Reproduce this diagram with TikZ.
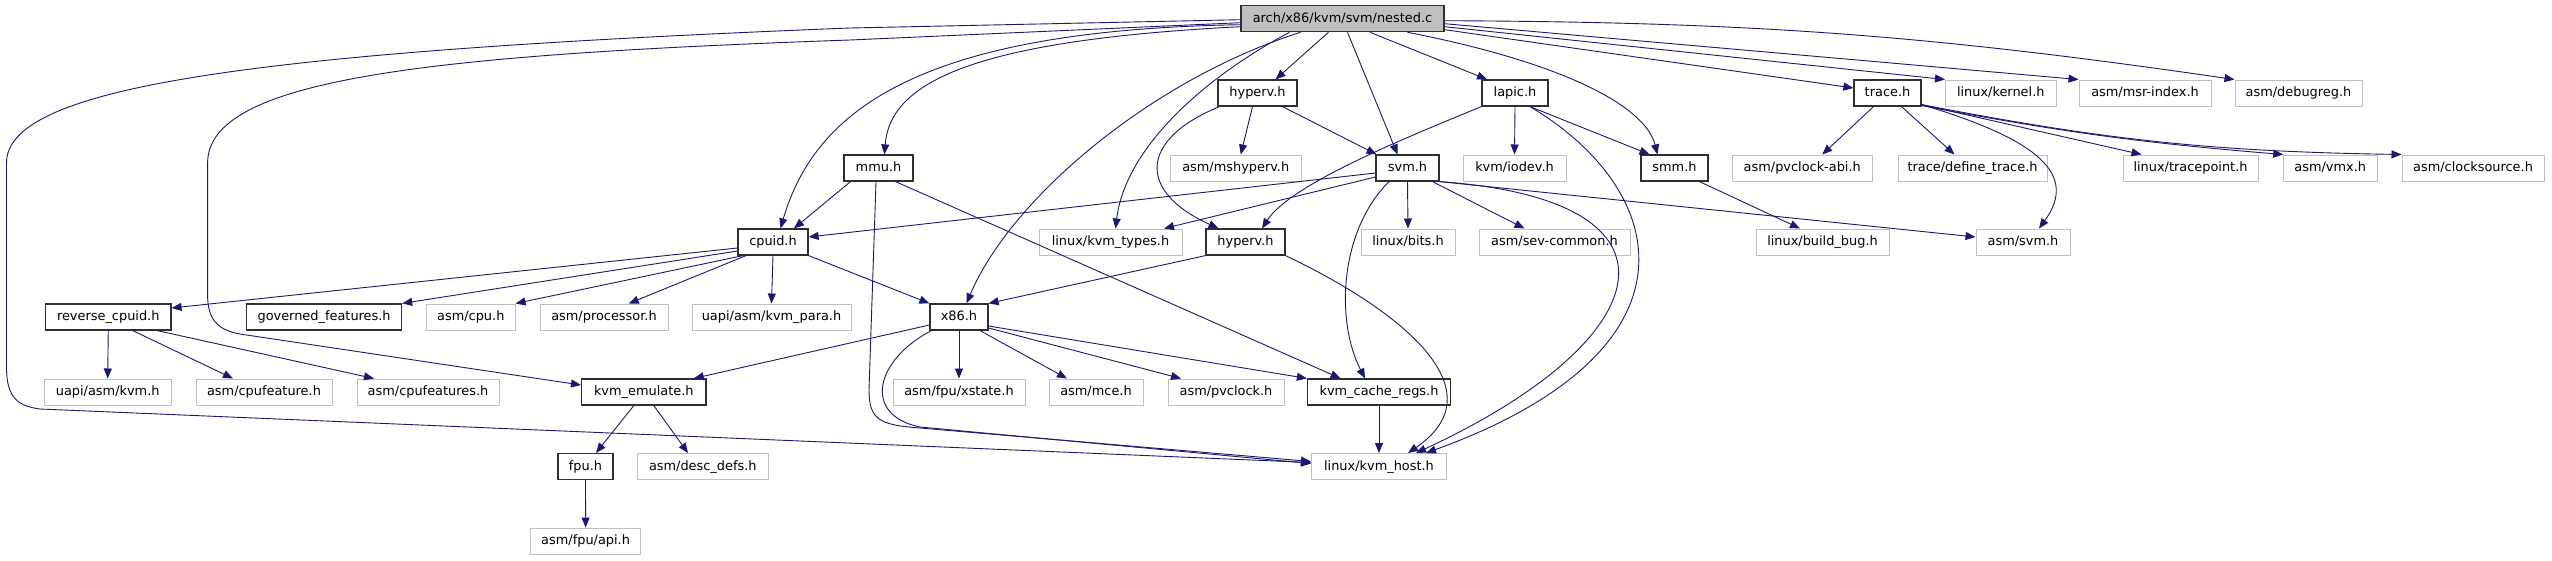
\documentclass[tikz,border=0pt]{standalone}
\usepackage{fontspec}
\setmainfont{DejaVu Sans}
\usetikzlibrary{arrows.meta}
\definecolor{ecol}{HTML}{191970}
\definecolor{docborder}{HTML}{303030}
\definecolor{extborder}{HTML}{BFBFBF}
\definecolor{rootfill}{HTML}{BFBFBF}
\tikzset{
  base/.style={rectangle, inner sep=0pt, minimum height=26pt, text height=9.6pt, text depth=2.6pt, font=\fontsize{12.9}{15}\selectfont, text=black},
  doc/.style={base, draw=docborder, line width=1.2pt, fill=white},
  ext/.style={base, draw=extborder, line width=1pt, fill=white},
  root/.style={base, draw=docborder, fill=rootfill, line width=1.2pt},
  edge/.style={draw=ecol, line width=0.9pt, -{Triangle[length=10pt,width=8pt]}, fill=none},
}
\begin{document}
\begin{tikzpicture}[x=1pt,y=1pt]
\useasboundingbox[fill=white] (0,0) rectangle (2552,-560);
% row 1
\node[root, minimum width=203pt] (nested) at (1342.5,-18.7) {arch/x86/kvm/svm/nested.c};
% row 2
\node[doc, minimum width=79pt] (hyperv2) at (1257.5,-93) {hyperv.h};
\node[doc, minimum width=66pt] (lapic) at (1515,-93) {lapic.h};
\node[doc, minimum width=67pt] (trace) at (1887.5,-93) {trace.h};
\node[ext, minimum width=110.5pt] (kernel) at (2000.75,-93) {linux/kernel.h};
\node[ext, minimum width=132pt] (msr) at (2145,-93) {asm/msr-index.h};
\node[ext, minimum width=127pt] (debugreg) at (2298.5,-93) {asm/debugreg.h};
% row 3
\node[doc, minimum width=69pt] (mmu) at (878.5,-168) {mmu.h};
\node[ext, minimum width=131.5pt] (mshyperv) at (1235.75,-168) {asm/mshyperv.h};
\node[doc, minimum width=63pt] (svm) at (1407.5,-168) {svm.h};
\node[ext, minimum width=103pt] (iodev) at (1514.5,-168) {kvm/iodev.h};
\node[doc, minimum width=67pt] (smm) at (1674.5,-168) {smm.h};
\node[ext, minimum width=139.5pt] (pvclockabi) at (1802.25,-168) {asm/pvclock-abi.h};
\node[ext, minimum width=149pt] (definetrace) at (1972.5,-168) {trace/define\_trace.h};
\node[ext, minimum width=135pt] (tracepoint) at (2190.5,-168) {linux/tracepoint.h};
\node[ext, minimum width=94.5pt] (vmx) at (2330.25,-168) {asm/vmx.h};
\node[ext, minimum width=142pt] (clocksource) at (2473,-168) {asm/clocksource.h};
% row 4
\node[doc, minimum width=70pt] (cpuid) at (773,-242) {cpuid.h};
\node[ext, minimum width=143pt] (kvmtypes) at (1110.5,-242) {linux/kvm\_types.h};
\node[doc, minimum width=79pt] (hyperv4) at (1245.5,-242) {hyperv.h};
\node[ext, minimum width=94pt] (bits) at (1408,-242) {linux/bits.h};
\node[ext, minimum width=151pt] (sev) at (1554.5,-242) {asm/sev-common.h};
\node[ext, minimum width=133pt] (buildbug) at (1822.5,-242) {linux/build\_bug.h};
\node[ext, minimum width=94pt] (asmsvm) at (2023,-242) {asm/svm.h};
% row 5
\node[doc, minimum width=125.5pt] (revcpuid) at (108.25,-317) {reverse\_cpuid.h};
\node[doc, minimum width=155pt] (governed) at (324.1,-317) {governed\_features.h};
\node[ext, minimum width=88.4pt] (asmcpu) at (470.8,-317) {asm/cpu.h};
\node[ext, minimum width=128pt] (processor) at (604,-317) {asm/processor.h};
\node[ext, minimum width=159pt] (kvmpara) at (771.5,-317) {uapi/asm/kvm\_para.h};
\node[doc, minimum width=58pt] (x86) at (959,-317) {x86.h};
% row 6
\node[ext, minimum width=126.6pt] (uapikvm) at (107.7,-392) {uapi/asm/kvm.h};
\node[ext, minimum width=136pt] (cpufeature) at (264,-392) {asm/cpufeature.h};
\node[ext, minimum width=142pt] (cpufeatures) at (428,-392) {asm/cpufeatures.h};
\node[doc, minimum width=124.4pt] (kvmemulate) at (643.8,-392) {kvm\_emulate.h};
\node[ext, minimum width=132pt] (xstate) at (959,-392) {asm/fpu/xstate.h};
\node[ext, minimum width=94pt] (mce) at (1096,-392) {asm/mce.h};
\node[ext, minimum width=116pt] (pvclock) at (1226,-392) {asm/pvclock.h};
\node[doc, minimum width=143pt] (cacheregs) at (1379,-392) {kvm\_cache\_regs.h};
% row 7
\node[doc, minimum width=55pt] (fpu) at (585.5,-466.5) {fpu.h};
\node[ext, minimum width=131.6pt] (descdefs) at (702.8,-466.5) {asm/desc\_defs.h};
\node[ext, minimum width=135pt] (kvmhost) at (1379,-466.5) {linux/kvm\_host.h};
% row 8
\node[ext, minimum width=110pt] (fpuapi) at (585.6,-541) {asm/fpu/api.h};

% edges from nested.c
\draw[edge] ([xshift=-14pt]nested.south) -- ([xshift=18pt]hyperv2.north);
\draw[edge] ([xshift=5pt]nested.south) -- ([xshift=-10pt]svm.north);
\draw[edge] ([xshift=27.5pt]nested.south) -- ([xshift=-28pt]lapic.north);
\draw[edge] ([xshift=65pt]nested.south) .. controls (1560,-62) and (1645,-105) .. ([xshift=-17pt]smm.north);
\draw[edge] ([yshift=-11pt]nested.east) -- ([yshift=5pt]trace.west);
\draw[edge] ([yshift=-8pt]nested.east) -- (kernel.north west);
\draw[edge] ([yshift=-5pt]nested.east) -- (msr.north west);
\draw[edge] ([yshift=-2pt]nested.east) to[bend left=4] (debugreg.north west);
\draw[edge] ([yshift=-1pt]nested.west) -- (850,-28) .. controls (240,-52) and (6.5,-88) .. (6.5,-163) -- (6.5,-367) .. controls (6.5,-398) and (18,-406) .. (40,-409) -- ([yshift=4pt]kvmhost.west);
\draw[edge] ([yshift=-4pt]nested.west) -- (850,-40) .. controls (420,-55) and (207.6,-80) .. (207.6,-163) -- (207.6,-295) .. controls (207.6,-320) and (218,-330) .. (240,-334) -- ([yshift=7pt]kvmemulate.west);
\draw[edge] ([yshift=-6pt]nested.west) .. controls (920,-30) and (815,-110) .. ([xshift=7.5pt]cpuid.north);
\draw[edge] ([yshift=-8pt]nested.west) .. controls (980,-40) and (890,-80) .. ([xshift=6pt]mmu.north);
\draw[edge] ([xshift=-42pt]nested.south) .. controls (1150,-80) and (1010,-200) .. ([xshift=7.5pt]x86.north);
\draw[edge] ([xshift=-53pt]nested.south) .. controls (1200,-80) and (1125,-150) .. ([xshift=5pt]kvmtypes.north);
% hyperv.h (upper)
\draw[edge] ([xshift=-5pt]hyperv2.south) -- ([xshift=5pt]mshyperv.north);
\draw[edge] ([xshift=25pt]hyperv2.south) -- ([xshift=-31pt]svm.north);
\draw[edge] ([xshift=-38pt]hyperv2.south) .. controls (1138,-140) and (1138,-192) .. ([xshift=-27pt]hyperv4.north);
% lapic.h
\draw[edge] (lapic.south west) .. controls (1400,-140) and (1290,-185) .. ([xshift=16.5pt]hyperv4.north);
\draw[edge] (lapic.south) -- (iodev.north);
\draw[edge] ([xshift=15pt]lapic.south) -- ([xshift=-25pt]smm.north);
\draw[edge] ([xshift=15pt]lapic.south) .. controls (1670,-190) and (1710,-350) .. ([xshift=47pt]kvmhost.north);
% svm.h
\draw[edge] ([yshift=-5pt]svm.west) -- ([yshift=5pt]cpuid.east);
\draw[edge] ([yshift=-9pt]svm.west) -- ([xshift=53.5pt]kvmtypes.north);
\draw[edge] (svm.south) -- (bits.north);
\draw[edge] ([xshift=25pt]svm.south) -- ([xshift=-30pt]sev.north);
\draw[edge] ([xshift=-18.5pt]svm.south) .. controls (1340,-230) and (1335,-320) .. ([xshift=-14pt]cacheregs.north);
\draw[edge] (svm.south east) -- ([yshift=5pt]asmsvm.west);
\draw[edge] (svm.south east) .. controls (1700,-200) and (1660,-340) .. ([xshift=37pt]kvmhost.north);
% trace.h
\draw[edge] ([xshift=-14pt]trace.south) -- ([xshift=20pt]pvclockabi.north);
\draw[edge] ([xshift=14pt]trace.south) -- ([xshift=-18pt]definetrace.north);
\draw[edge] ([yshift=2pt]trace.south east) .. controls (2040,-140) and (2078,-175) .. ([xshift=16pt]asmsvm.north);
\draw[edge] ([yshift=2pt]trace.south east) -- ([xshift=-49pt]tracepoint.north);
\draw[edge] ([yshift=1pt]trace.south east) to[bend right=3] ([xshift=-47pt]vmx.north);
\draw[edge] ([yshift=2pt]trace.south east) to[bend right=5] (clocksource.north west);
% mmu.h
\draw[edge] ([xshift=-28pt]mmu.south) -- ([xshift=21pt]cpuid.north);
\draw[edge] ([xshift=-2.5pt]mmu.south) -- (869,-390) .. controls (869,-420) and (880,-425) .. (920,-428) -- ([yshift=5pt]kvmhost.west);
\draw[edge] ([xshift=17pt]mmu.south) -- ([xshift=-38.5pt]cacheregs.north);
% cpuid.h
\draw[edge] ([yshift=-6pt]cpuid.west) -- ([yshift=9pt]revcpuid.east);
\draw[edge] ([yshift=-9pt]cpuid.west) -- (governed.north east);
\draw[edge] ([xshift=-30pt]cpuid.south) -- (asmcpu.north east);
\draw[edge] ([xshift=-27pt]cpuid.south) -- ([xshift=24.7pt]processor.north);
\draw[edge] (cpuid.south) -- (kvmpara.north);
\draw[edge] (cpuid.south east) -- (x86.north west);
% reverse_cpuid.h
\draw[edge] (revcpuid.south) -- (uapikvm.north);
\draw[edge] ([xshift=24.5pt]revcpuid.south) -- ([xshift=-31pt]cpufeature.north);
\draw[edge] ([xshift=49pt]revcpuid.south) -- ([xshift=-54pt]cpufeatures.north);
% x86.h
\draw[edge] ([yshift=-8pt]x86.west) -- ([xshift=50pt]kvmemulate.north);
\draw[edge] (x86.south) -- (xstate.north);
\draw[edge] ([xshift=21pt]x86.south) -- ([xshift=-29pt]mce.north);
\draw[edge] ([yshift=-11pt]x86.east) -- ([xshift=-45pt]pvclock.north);
\draw[edge] ([yshift=-9pt]x86.east) -- (cacheregs.north west);
\draw[edge] ([xshift=2pt]x86.south west) .. controls (875,-360) and (862,-415) .. (920,-427) -- ([yshift=3pt]kvmhost.west);
% hyperv.h (lower)
\draw[edge] (hyperv4.south west) -- (x86.north east);
\draw[edge] (hyperv4.south east) .. controls (1400,-310) and (1500,-390) .. ([xshift=29pt]kvmhost.north);
% smm.h
\draw[edge] ([xshift=25pt]smm.south) -- ([xshift=-22.5pt]buildbug.north);
% kvm_emulate.h
\draw[edge] ([xshift=-10pt]kvmemulate.south) -- ([xshift=10.5pt]fpu.north);
\draw[edge] ([xshift=10pt]kvmemulate.south) -- ([xshift=-14.8pt]descdefs.north);
% fpu.h
\draw[edge] (fpu.south) -- (fpuapi.north);
% kvm_cache_regs.h
\draw[edge] (cacheregs.south) -- (kvmhost.north);
\end{tikzpicture}
\end{document}
